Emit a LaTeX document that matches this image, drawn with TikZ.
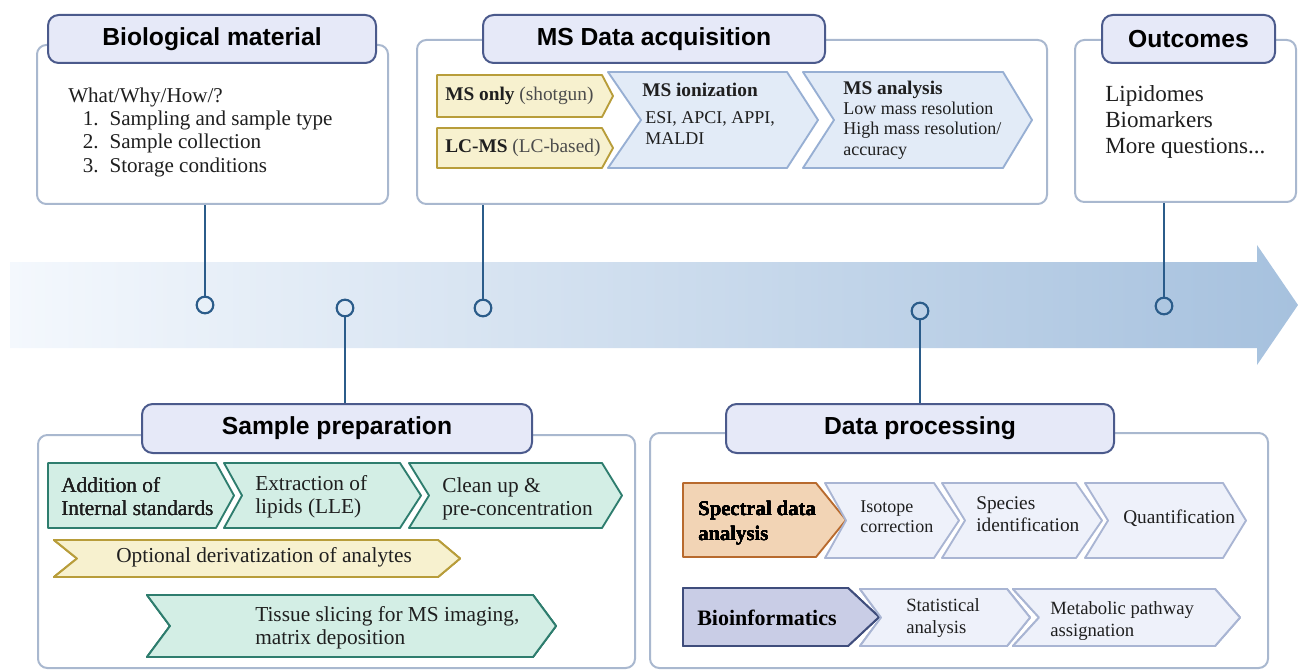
\documentclass[tikz,border=0pt]{standalone}
\usepackage{fontspec}
\setmainfont{Liberation Serif}
\setsansfont{Liberation Sans}
\usetikzlibrary{fit}
\definecolor{linkblue}{HTML}{2B5C8A}
\definecolor{boxgray}{HTML}{A9B8CF}
\definecolor{headline}{HTML}{4B5A8C}
\definecolor{headfill}{HTML}{E6E9F8}
\definecolor{bandL}{HTML}{F4F8FD}
\definecolor{bandR}{HTML}{A6C1DE}
\definecolor{grnfill}{HTML}{D3EEE5}
\definecolor{grnline}{HTML}{2E7D6E}
\definecolor{yelfill}{HTML}{F7F1CF}
\definecolor{yelline}{HTML}{B89D3A}
\definecolor{orgfill}{HTML}{F2D4B5}
\definecolor{orgline}{HTML}{B86A2E}
\definecolor{purfill}{HTML}{C9CDE6}
\definecolor{purline}{HTML}{3F4D7C}
\definecolor{msfill}{HTML}{E2EBF7}
\definecolor{msline}{HTML}{97AFD3}
\definecolor{dpfill}{HTML}{EEF1FA}
\definecolor{dpline}{HTML}{A9B5D3}
\newcommand\chev[7]{\draw[chevron, #1] (#2,#4) -- (#3,#4) -- ({#3+#7},{(#4+#5)/2}) -- (#3,#5) -- (#2,#5) -- ({#2+#6},{(#4+#5)/2}) -- cycle;}
\tikzset{
  chevron/.style={line width=1.4pt, line join=round},
  grn/.style={fill=grnfill, draw=grnline},
  yel/.style={fill=yelfill, draw=yelline},
  org/.style={fill=orgfill, draw=orgline},
  pur/.style={fill=purfill, draw=purline},
  msc/.style={fill=msfill, draw=msline},
  dpc/.style={fill=dpfill, draw=dpline},
  txt/.style={anchor=west, align=left, inner sep=0pt, text=black!88}
}
\begin{document}
\begin{tikzpicture}[x=0.75pt, y=-0.75pt,
    outer/.style={draw=boxgray, line width=1.5pt, rounded corners=7pt, fill=white, inner sep=0pt},
    head/.style={draw=headline, fill=headfill, line width=1.5pt, rounded corners=8pt, inner sep=0pt},
    headtxt/.style={inner sep=0pt, font=\sffamily\bfseries\fontsize{18.5}{22}\selectfont},
    link/.style={draw=linkblue, line width=1.8pt},
    dot/.style={circle, draw=linkblue, line width=1.6pt, minimum size=12.5pt, inner sep=0pt}]
  \useasboundingbox (0,0) rectangle (1298,670);
  \shade[left color=bandL, right color=bandR] (10,262) -- (1257,262) -- (1257,245) -- (1298,305)
    -- (1257,365) -- (1257,348) -- (10,348) -- cycle;

  \node[outer, fit={(37,45) (388,204)}] (bio) {};
  \node[outer, fit={(417,40) (1047,204)}] (ms) {};
  \node[outer, fit={(1075,40) (1296,202)}] (out) {};
  \node[outer, fit={(38,435) (635,668)}] (prep) {};
  \node[outer, fit={(650,433) (1268,668)}] (dp) {};
  \node[head, fit={(48,15) (376,63)}, label={[headtxt]center:Biological material}] (bioHead) {};
  \node[head, fit={(483,15) (825,63)}, label={[headtxt]center:MS Data acquisition}] (msHead) {};
  \node[head, fit={(1102,15) (1275,63)}, label={[headtxt]center:Outcomes}] (outHead) {};
  \node[head, fit={(142,404) (532,453)}, label={[headtxt]center:Sample preparation}] (prepHead) {};
  \node[head, fit={(726,404) (1114,453)}, label={[headtxt]center:Data processing}] (dpHead) {};

  \node[dot] (dBio) at (205,305) {};
  \node[dot] (dPrep) at (345,308) {};
  \node[dot] (dMs) at (483,308) {};
  \node[dot] (dDp) at (920,311) {};
  \node[dot] (dOut) at (1164,306) {};
  \draw[link] (dBio) -- (dBio |- bio.south);
  \draw[link] (dMs) -- (dMs |- ms.south);
  \draw[link] (dOut) -- (dOut |- out.south);
  \draw[link] (dPrep) -- (dPrep |- prepHead.north);
  \draw[link] (dDp) -- (dDp |- dpHead.north);

  \node[txt, font=\fontsize{15.8}{17.5}\selectfont] (bioText) at (68,132) {What/Why/How/?\\
    \hspace*{11pt}\makebox[20pt][l]{1.}Sampling and sample type\\
    \hspace*{11pt}\makebox[20pt][l]{2.}Sample collection\\
    \hspace*{11pt}\makebox[20pt][l]{3.}Storage conditions};

  \chev{yel}{437}{602}{75}{117}{0}{11}
  \chev{yel}{437}{602}{128}{168}{0}{11}
  \chev{msc}{608}{787}{72}{168}{33}{31}
  \chev{msc}{803}{1003}{72}{168}{31}{29}
  \node[txt, font=\fontsize{14.5}{17}\selectfont] (shotgun) at (445,96) {\textbf{MS only} \textcolor{black!70}{(shotgun)}};
  \node[txt, font=\fontsize{14.5}{17}\selectfont] (lcms) at (445,148) {\textbf{LC-MS} \textcolor{black!70}{(LC-based)}};
  \node[txt, font=\fontsize{14.5}{17}\selectfont\bfseries] (ionHead) at (642,90) {MS ionization};
  \node[txt, font=\fontsize{13.5}{15.75}\selectfont] (ionText) at (645,128) {ESI, APCI, APPI,\\MALDI};
  \node[txt, font=\fontsize{13.5}{15.2}\selectfont] (anaText) at (843,120) {{\fontsize{14.5}{15.2}\selectfont\bfseries MS analysis}\\
    Low mass resolution\\High mass resolution/\\accuracy};

  \node[txt, font=\fontsize{17.3}{19.5}\selectfont] (outText) at (1105,122) {Lipidomes\\Biomarkers\\More questions...};

  \foreach \xl/\xr/\nt/\tp in {48/216/0/18, 224/400/18/21, 409/602/20/20}
    \chev{grn}{\xl}{\xr}{463}{528}{\nt}{\tp}
  \chev{yel}{54}{438}{540}{577}{23}{22}
  \chev{grn}{147}{533}{595}{657}{23}{23}
  \node[txt, font=\fontsize{16}{17.3}\selectfont] (addStd) at (61,497) {Addition of\\Internal standards};
  \node[txt, font=\fontsize{16}{17.3}\selectfont] (extract) at (255,497) {Extraction of\\lipids (LLE)};
  \node[txt, font=\fontsize{16}{17.3}\selectfont] (cleanUp) at (442,499) {Clean up \&\\pre-concentration};
  \node[txt, font=\fontsize{16}{17.3}\selectfont] (deriv) at (116,557) {Optional derivatization of analytes};
  \node[txt, font=\fontsize{16}{17.3}\selectfont] (tissue) at (255,628) {Tissue slicing for MS imaging,\\matrix deposition};

  \chev{org}{683}{816}{483}{557}{0}{30}
  \foreach \xl/\xr/\nt/\tp in {825/934/21/25, 942/1076/23/26, 1085/1223/23/23}
    \chev{dpc}{\xl}{\xr}{483}{558}{\nt}{\tp}
  \chev{pur}{683}{848}{588}{646}{0}{31}
  \foreach \xl/\xr/\nt/\tp in {860/1007/21/23, 1013/1215/26/25}
    \chev{dpc}{\xl}{\xr}{589}{646}{\nt}{\tp}
  \node[txt, text=black, font=\fontsize{15.5}{18.5}\selectfont\bfseries] (spectral) at (698,523) {Spectral data\\analysis};
  \node[txt, font=\fontsize{13.5}{15}\selectfont] (isotope) at (860,517) {Isotope\\correction};
  \node[txt, font=\fontsize{14.5}{16.5}\selectfont] (species) at (976,514) {Species\\identification};
  \node[txt, font=\fontsize{14.5}{16.5}\selectfont] (quant) at (1123,518) {Quantification};
  \node[txt, text=black, font=\fontsize{16.5}{18}\selectfont\bfseries] (bioinf) at (697,618) {Bioinformatics};
  \node[txt, font=\fontsize{14}{17}\selectfont] (stats) at (906,618) {Statistical\\analysis};
  \node[txt, font=\fontsize{14}{16}\selectfont] (pathway) at (1050,621) {Metabolic pathway\\assignation};
\end{tikzpicture}
\end{document}
